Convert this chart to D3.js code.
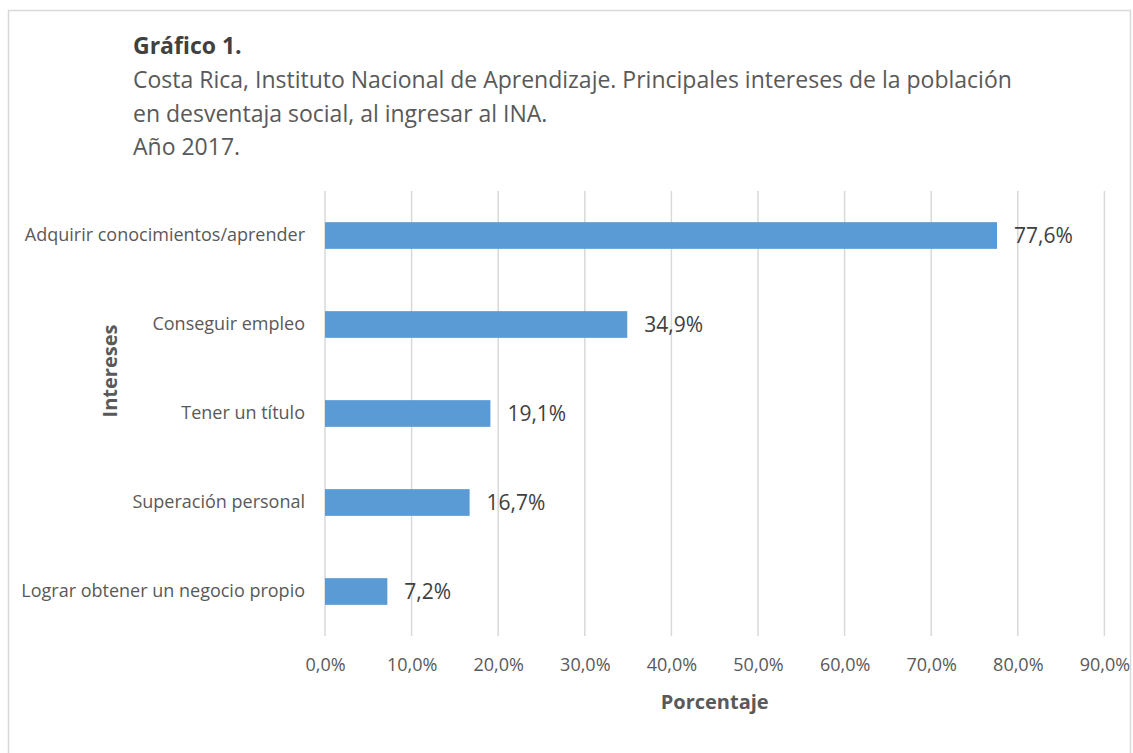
<!DOCTYPE html>
<html><head><meta charset="utf-8">
<script src="https://cdn.jsdelivr.net/npm/d3@7"></script>
<style>
body{margin:0;background:#fff;}
svg{display:block;font-family:"Open Sans",Lato,sans-serif;}
</style></head>
<body>
<svg id="chart" width="1133" height="753"></svg>
<script>
const categories = ["Adquirir conocimientos/aprender","Conseguir empleo","Tener un título","Superación personal","Lograr obtener un negocio propio"];
const values = [77.6, 34.9, 19.1, 16.7, 7.2];
const tickValues = [0,10,20,30,40,50,60,70,80,90];
const titleLines = ["Costa Rica, Instituto Nacional de Aprendizaje. Principales intereses de la población","en desventaja social, al ingresar al INA.","Año 2017."];

const svg = d3.select("#chart");
svg.append("rect").attr("x",8.5).attr("y",10.5).attr("width",1122).attr("height",760)
  .attr("fill","#fff").attr("stroke","#D9D9D9").attr("stroke-width",1.5);

const L=325, R=1104.4, T=191, B=636;
const x = d3.scaleLinear().domain([0,90]).range([L,R]);
const y = d3.scaleBand().domain(categories).range([T,B]).paddingInner(0.7).paddingOuter(0.35);

// title
svg.append("text").attr("x",133).attr("y",54).attr("font-size",23).attr("font-weight","bold").attr("fill","#404040").text("Gráfico 1.");
svg.selectAll("text.tl").data(titleLines).enter().append("text").attr("class","tl")
  .attr("x",133).attr("y",(d,i)=>88+i*33.5).attr("font-size",23).attr("fill","#595959").text(d=>d);

// gridlines
svg.append("g").selectAll("line").data(tickValues).enter().append("line")
  .attr("x1",d=>x(d)).attr("x2",d=>x(d)).attr("y1",T).attr("y2",B)
  .attr("stroke","#D9D9D9").attr("stroke-width",1.5);

// x axis
const xAxis = d3.axisBottom(x).tickValues(tickValues).tickSize(0).tickPadding(0)
  .tickFormat(d=>d3.format(".1f")(d).replace(".",",")+"%");
const gx = svg.append("g").attr("transform",`translate(0,${B+22})`).call(xAxis);
gx.select(".domain").remove();
gx.selectAll("text").attr("font-size",18).attr("fill","#595959").attr("font-family","Open Sans");

// y axis
const yAxis = d3.axisLeft(y).tickSize(0).tickPadding(20);
const gy = svg.append("g").attr("transform",`translate(${L},0)`).call(yAxis);
gy.select(".domain").remove();
gy.selectAll("text").attr("font-size",18).attr("fill","#595959").attr("font-family","Open Sans");

// bars
svg.append("g").selectAll("rect").data(values).enter().append("rect")
  .attr("x",x(0)).attr("y",(d,i)=>y(categories[i]))
  .attr("width",d=>x(d)-x(0)).attr("height",y.bandwidth()).attr("fill","#5B9BD5");

// data labels
svg.append("g").selectAll("text").data(values).enter().append("text")
  .attr("x",d=>x(d)+17).attr("y",(d,i)=>y(categories[i])+y.bandwidth()/2)
  .attr("dy","0.35em").attr("font-size",21).attr("fill","#404040")
  .text(d=>d3.format(".1f")(d).replace(".",",")+"%");

// axis titles
svg.append("text").attr("x",(L+R)/2).attr("y",709).attr("text-anchor","middle")
  .attr("font-size",20).attr("font-weight","bold").attr("fill","#595959").text("Porcentaje");
svg.append("text").attr("transform",`translate(117,371) rotate(-90)`).attr("text-anchor","middle")
  .attr("font-size",20).attr("font-weight","bold").attr("fill","#595959").text("Intereses");
</script>
</body></html>
